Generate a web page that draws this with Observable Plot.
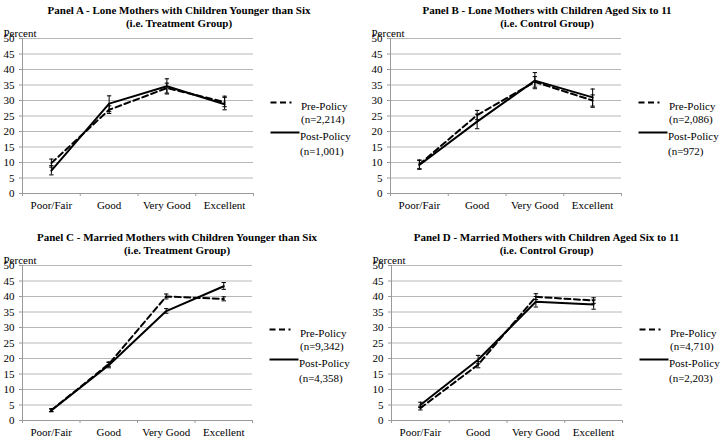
<!DOCTYPE html>
<html><head><meta charset="utf-8">
<script src="https://cdn.jsdelivr.net/npm/d3@7"></script>
<script src="https://cdn.jsdelivr.net/npm/@observablehq/plot@0.6"></script>
<style>
body{margin:0;background:#fff;}
#wrap{position:relative;width:721px;height:440px;background:#fff;}
#wrap > svg{position:absolute;}
#wrap svg, #wrap svg text{font-family:"Liberation Serif","Times New Roman",serif !important;}
</style></head><body><div id="wrap"></div>
<script>
const categories = ["Poor/Fair", "Good", "Very Good", "Excellent"];
const yTicks = [0, 5, 10, 15, 20, 25, 30, 35, 40, 45, 50];
const titles = [
  "Panel A - Lone Mothers with Children Younger than Six",
  "Panel B - Lone Mothers with Children Aged Six to 11",
  "Panel C - Married Mothers with Children Younger than Six",
  "Panel D - Married Mothers with Children Aged Six to 11"
];
const subtitles = ["(i.e. Treatment Group)", "(i.e. Control Group)", "(i.e. Treatment Group)", "(i.e. Control Group)"];
const preN = ["(n=2,214)", "(n=2,086)", "(n=9,342)", "(n=4,710)"];
const postN = ["(n=1,001)", "(n=972)", "(n=4,358)", "(n=2,203)"];
const seriesNames = ["Pre-Policy", "Post-Policy"];

// Panel A
const preA = [9.8, 27.0, 34.0, 29.5], preALo = [8.5, 25.8, 32.4, 28.0], preAHi = [11.1, 28.3, 35.6, 31.0];
const postA = [7.4, 29.0, 34.6, 28.8], postALo = [6.0, 26.4, 32.1, 27.0], postAHi = [9.0, 31.5, 37.0, 31.4];
// Panel B
const preB = [9.4, 25.3, 36.0, 30.0], preBLo = [8.0, 23.8, 34.3, 28.2], preBHi = [10.8, 26.8, 37.7, 31.8];
const postB = [9.2, 23.2, 36.4, 31.0], postBLo = [7.8, 20.9, 33.8, 27.8], postBHi = [10.7, 25.6, 39.0, 33.7];
// Panel C
const preC = [3.3, 18.2, 40.0, 39.2], preCLo = [2.9, 17.5, 39.2, 38.6], preCHi = [3.8, 18.9, 40.8, 39.9];
const postC = [3.2, 17.8, 35.3, 43.3], postCLo = [2.8, 17.0, 34.6, 42.3], postCHi = [3.7, 18.7, 36.1, 44.5];
// Panel D
const preD = [4.0, 18.0, 39.9, 38.7], preDLo = [3.4, 17.0, 39.0, 37.8], preDHi = [4.6, 19.0, 40.9, 39.6];
const postD = [5.0, 19.6, 38.3, 37.4], postDLo = [4.2, 18.3, 36.6, 35.9], postDHi = [5.9, 21.0, 40.0, 38.9];

function rows(v, lo, hi) {
  return categories.map((c, i) => ({cat: c, pos: i + 0.5, v: v[i], lo: lo[i], hi: hi[i]}));
}

const panels = [
  {pre: rows(preA, preALo, preAHi), post: rows(postA, postALo, postAHi)},
  {pre: rows(preB, preBLo, preBHi), post: rows(postB, postBLo, postBHi)},
  {pre: rows(preC, preCLo, preCHi), post: rows(postC, postCLo, postCHi)},
  {pre: rows(preD, preDLo, preDHi), post: rows(postD, postDLo, postDHi)}
];

const layout = [
  {left: 0, top: 0, width: 360, height: 220, ml: 22, mr: 107, mt: 38, mb: 27, tc: 178.5},
  {left: 360, top: 0, width: 361, height: 220, ml: 30, mr: 100, mt: 38, mb: 27, tc: 186.5},
  {left: 0, top: 220, width: 360, height: 220, ml: 22, mr: 108, mt: 45, mb: 20, tc: 176.5},
  {left: 360, top: 220, width: 361, height: 220, ml: 31, mr: 99, mt: 45, mb: 20, tc: 186}
];

const cap = {draw(ctx) { ctx.moveTo(-2.2, 0); ctx.lineTo(2.2, 0); }};
const seg = (len) => ({draw(ctx) { ctx.moveTo(-len / 2, 0); ctx.lineTo(len / 2, 0); }});
const DASH = "6,3.5";
const GRID = "#b8b8b8";
const AXIS = "#9a9a9a";
const FONT = "'Liberation Serif', 'Times New Roman', serif";

const wrap = document.getElementById("wrap");
panels.forEach((p, k) => {
  const L = layout[k];
  const errMarks = (data) => [
    Plot.ruleX(data, {x: "pos", y1: "lo", y2: "hi", stroke: "black", strokeWidth: 1}),
    Plot.dot(data, {x: "pos", y: "lo", symbol: cap, fill: "none", stroke: "black", strokeWidth: 1}),
    Plot.dot(data, {x: "pos", y: "hi", symbol: cap, fill: "none", stroke: "black", strokeWidth: 1})
  ];
  const chart = Plot.plot({
    width: L.width, height: L.height,
    marginLeft: L.ml, marginRight: L.mr, marginTop: L.mt, marginBottom: L.mb,
    style: {fontFamily: FONT, fontSize: "11px", background: "white", color: "black", overflow: "visible"},
    x: {domain: [0, categories.length], axis: null},
    y: {domain: [0, 50], axis: null},
    marks: [
      Plot.gridY(yTicks.filter(d => d > 0), {stroke: GRID, strokeOpacity: 1, strokeWidth: 1}),
      Plot.ruleY([0], {stroke: AXIS, strokeWidth: 1}),
      Plot.ruleX([0], {stroke: AXIS, strokeWidth: 1}),
      Plot.axisY({ticks: yTicks, tickSize: 3, tickPadding: 5, stroke: AXIS, fill: "black", fontSize: 11, fontFamily: FONT, label: null}),
      Plot.axisX({ticks: d3.range(categories.length + 1), tickSize: 3, tickFormat: () => "", stroke: AXIS, label: null}),
      Plot.axisX({ticks: p.pre.map(d => d.pos), tickSize: 0, tickPadding: 8, tickFormat: d => categories[Math.floor(d)], fill: "black", fontSize: 11, fontFamily: FONT, label: null}),
      ...errMarks(p.pre),
      ...errMarks(p.post),
      Plot.line(p.pre, {x: "pos", y: "v", stroke: "black", strokeWidth: 2, strokeDasharray: DASH}),
      Plot.line(p.post, {x: "pos", y: "v", stroke: "black", strokeWidth: 2}),
      // titles
      Plot.text([titles[k]], {frameAnchor: "top-left", dx: L.tc - L.ml, dy: -32, textAnchor: "middle", fontWeight: "bold", fontSize: 11, fontFamily: FONT, fill: "black"}),
      Plot.text([subtitles[k]], {frameAnchor: "top-left", dx: L.tc - L.ml, dy: -19.5, textAnchor: "middle", fontWeight: "bold", fontSize: 11, fontFamily: FONT, fill: "black"}),
      Plot.text(["Percent"], {frameAnchor: "top-left", dx: -19, dy: -9.5, textAnchor: "start", fontSize: 11, fontFamily: FONT, fill: "black"}),
      // legend
      Plot.dot([seriesNames[0]], {frameAnchor: "top-right", dx: 27.5, dy: 64, symbol: seg(21), fill: "none", stroke: "black", strokeWidth: 2, strokeDasharray: DASH}),
      Plot.text([seriesNames[0]], {frameAnchor: "top-right", dx: 47.5, dy: 64, textAnchor: "start", fontSize: 11, fontFamily: FONT, fill: "black"}),
      Plot.text([preN[k]], {frameAnchor: "top-right", dx: 47.5, dy: 77, textAnchor: "start", fontSize: 11, fontFamily: FONT, fill: "black"}),
      Plot.dot([seriesNames[1]], {frameAnchor: "top-right", dx: 31.5, dy: 94, symbol: seg(29), fill: "none", stroke: "black", strokeWidth: 2}),
      Plot.text([seriesNames[1]], {frameAnchor: "top-right", dx: 46.5, dy: 94, textAnchor: "start", fontSize: 11, fontFamily: FONT, fill: "black"}),
      Plot.text([postN[k]], {frameAnchor: "top-right", dx: 46.5, dy: 109, textAnchor: "start", fontSize: 11, fontFamily: FONT, fill: "black"})
    ]
  });
  chart.style.left = L.left + "px";
  chart.style.top = L.top + "px";
  wrap.appendChild(chart);
});
</script></body></html>
